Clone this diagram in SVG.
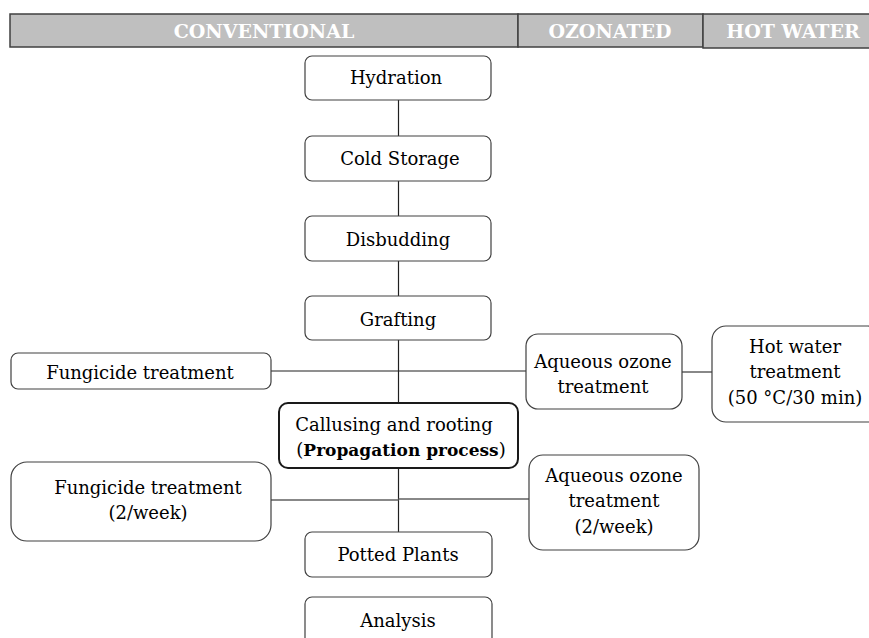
<svg xmlns="http://www.w3.org/2000/svg" width="869" height="638" viewBox="0 0 869 638">
<style>
.hdr{fill:#bfbfbf;stroke:#404040;stroke-width:1.5}
.ht{font-family:'DejaVu Serif',serif;font-weight:bold;font-size:19px;fill:#ffffff;text-anchor:middle}
.box{fill:#ffffff;stroke:#404040;stroke-width:1.2}
.bold{fill:#ffffff;stroke:#1a1a1a;stroke-width:2}
.t{font-family:'DejaVu Serif',serif;font-size:18px;fill:#000000;text-anchor:middle}
.ln{stroke:#202020;stroke-width:1.2;fill:none}
.lg{stroke:#606060;stroke-width:1.5;fill:none}
</style>
<g id="header">
<rect class="hdr" x="10" y="14" width="508" height="33"/>
<rect class="hdr" x="518" y="14" width="185" height="33"/>
<rect class="hdr" x="703" y="14" width="170" height="34"/>
<text class="ht" x="264" y="38">CONVENTIONAL</text>
<text class="ht" x="610" y="38">OZONATED</text>
<text class="ht" x="793" y="38">HOT WATER</text>
</g>
<g id="connectors">
<line class="ln" x1="398.5" y1="100" x2="398.5" y2="136"/>
<line class="ln" x1="398.5" y1="181" x2="398.5" y2="216"/>
<line class="ln" x1="398.5" y1="261" x2="398.5" y2="296"/>
<line class="ln" x1="398.5" y1="340" x2="398.5" y2="403"/>
<line class="ln" x1="271" y1="371" x2="526" y2="371"/>
<line class="lg" x1="682" y1="372" x2="712" y2="372"/>
<line class="ln" x1="398.5" y1="468" x2="398.5" y2="532"/>
<line class="lg" x1="271" y1="500" x2="398.5" y2="500"/>
<line class="lg" x1="398.5" y1="499" x2="529" y2="499"/>
</g>
<g id="hydration">
<rect class="box" x="305" y="56" width="186" height="44" rx="7"/>
<text class="t" x="396" y="84">Hydration</text>
</g>
<g id="cold-storage">
<rect class="box" x="305" y="136" width="186" height="45" rx="7"/>
<text class="t" x="400" y="165">Cold Storage</text>
</g>
<g id="disbudding">
<rect class="box" x="305" y="216" width="186" height="45" rx="7"/>
<text class="t" x="398" y="246">Disbudding</text>
</g>
<g id="grafting">
<rect class="box" x="305" y="296" width="186" height="44" rx="7"/>
<text class="t" x="398" y="326">Grafting</text>
</g>
<g id="fungicide1">
<rect class="box" x="11" y="353" width="260" height="36" rx="7"/>
<text class="t" x="140" y="379">Fungicide treatment</text>
</g>
<g id="ozone1">
<rect class="box" x="526" y="334" width="156" height="75" rx="12"/>
<text class="t" x="603" y="368">Aqueous ozone</text>
<text class="t" x="603" y="393">treatment</text>
</g>
<g id="hotwater">
<rect class="box" x="712" y="326" width="170" height="96" rx="14"/>
<text class="t" x="795" y="353">Hot water</text>
<text class="t" x="795" y="378">treatment</text>
<text class="t" x="795" y="404">(50 °C/30 min)</text>
</g>
<g id="callusing">
<rect class="bold" x="279" y="403" width="239" height="65" rx="9"/>
<text class="t" x="394" y="431">Callusing and rooting</text>
<text class="t" x="401" y="456">(<tspan font-weight="bold" font-size="17">Propagation process</tspan>)</text>
</g>
<g id="fungicide2">
<rect class="box" x="11" y="462" width="260" height="79" rx="16"/>
<text class="t" x="148" y="494">Fungicide treatment</text>
<text class="t" x="148" y="519">(2/week)</text>
</g>
<g id="ozone2">
<rect class="box" x="529" y="455" width="170" height="95" rx="14"/>
<text class="t" x="614" y="482">Aqueous ozone</text>
<text class="t" x="614" y="507">treatment</text>
<text class="t" x="614" y="533">(2/week)</text>
</g>
<g id="potted">
<rect class="box" x="305" y="532" width="187" height="45" rx="7"/>
<text class="t" x="398" y="561">Potted Plants</text>
</g>
<g id="analysis">
<rect class="box" x="305" y="597" width="187" height="50" rx="7"/>
<text class="t" x="398" y="627">Analysis</text>
</g>
</svg>
